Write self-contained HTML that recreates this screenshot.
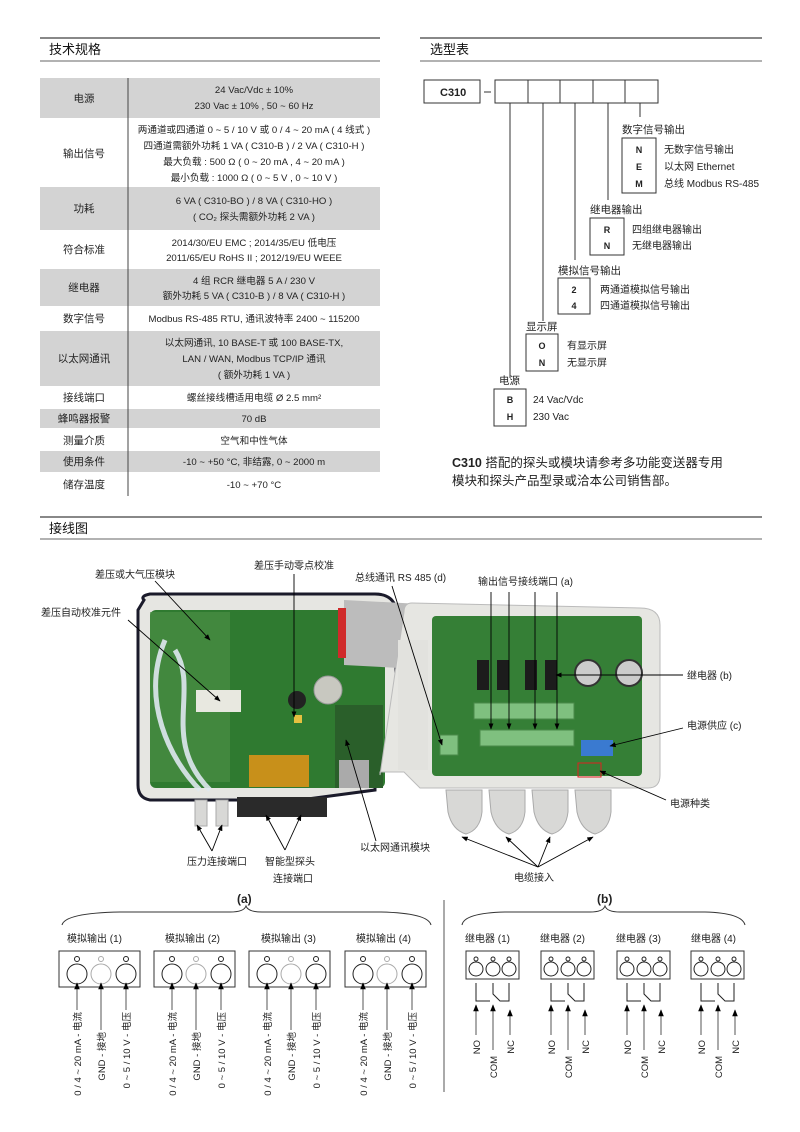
<!DOCTYPE html>
<html><head><meta charset="utf-8"><style>
html,body{margin:0;padding:0;background:#fff}
svg{display:block}
text{font-family:"Liberation Sans","Noto Sans CJK SC",sans-serif;fill:#222}
.t{font-size:10.5px}
.h{font-size:13px;fill:#111}
.b{font-weight:bold}
.l{font-size:10px}
</style></head><body>
<svg width="800" height="1132" viewBox="0 0 800 1132" xmlns="http://www.w3.org/2000/svg">
<defs>
<marker id="ar" viewBox="0 0 10 10" refX="9" refY="5" markerWidth="7" markerHeight="7" orient="auto-start-reverse"><path d="M0,1 L10,5 L0,9 z" fill="#000"/></marker>
</defs>
<!-- headers -->
<line x1="40" y1="38" x2="380" y2="38" stroke="#111" stroke-width="1"/>
<line x1="40" y1="61" x2="380" y2="61" stroke="#666" stroke-width="1"/>
<text x="49" y="54" class="h">技术规格</text>
<line x1="420" y1="38" x2="762" y2="38" stroke="#111"/>
<line x1="420" y1="61" x2="762" y2="61" stroke="#666"/>
<text x="430" y="54" class="h">选型表</text>
<line x1="40" y1="517" x2="762" y2="517" stroke="#111"/>
<line x1="40" y1="539" x2="762" y2="539" stroke="#666"/>
<text x="49" y="533" class="h">接线图</text>

<!-- table -->
<g fill="#d3d3d3">
<rect x="40" y="78" width="340" height="40"/>
<rect x="40" y="187" width="340" height="43"/>
<rect x="40" y="269" width="340" height="37"/>
<rect x="40" y="331" width="340" height="55"/>
<rect x="40" y="409" width="340" height="19"/>
<rect x="40" y="451" width="340" height="21"/>
</g>
<line x1="128" y1="78" x2="128" y2="496" stroke="#444"/>
<g class="t" text-anchor="middle">
<text x="84" y="102">电源</text>
<text x="84" y="157">输出信号</text>
<text x="84" y="212">功耗</text>
<text x="84" y="253">符合标准</text>
<text x="84" y="291">继电器</text>
<text x="84" y="322">数字信号</text>
<text x="84" y="362">以太网通讯</text>
<text x="84" y="401">接线端口</text>
<text x="84" y="422">蜂鸣器报警</text>
<text x="84" y="444">测量介质</text>
<text x="84" y="465">使用条件</text>
<text x="84" y="488">储存温度</text>
</g>
<g text-anchor="middle" style="font-size:9.6px">
<text x="254" y="93">24 Vac/Vdc ± 10%</text>
<text x="254" y="109">230 Vac ± 10% , 50 ~ 60 Hz</text>
<text x="254" y="133">两通道或四通道 0 ~ 5 / 10 V 或 0 / 4 ~ 20 mA ( 4 线式 )</text>
<text x="254" y="149">四通道需额外功耗 1 VA ( C310-B ) / 2 VA ( C310-H )</text>
<text x="254" y="165">最大负载 : 500 Ω ( 0 ~ 20 mA , 4 ~ 20 mA )</text>
<text x="254" y="181">最小负载 : 1000 Ω ( 0 ~ 5 V , 0 ~ 10 V )</text>
<text x="254" y="204">6 VA ( C310-BO ) / 8 VA ( C310-HO )</text>
<text x="254" y="220">( CO₂ 探头需额外功耗 2 VA )</text>
<text x="254" y="246">2014/30/EU EMC ; 2014/35/EU 低电压</text>
<text x="254" y="261">2011/65/EU RoHS II ; 2012/19/EU WEEE</text>
<text x="254" y="284">4 组 RCR 继电器 5 A / 230 V</text>
<text x="254" y="299">额外功耗 5 VA ( C310-B ) / 8 VA ( C310-H )</text>
<text x="254" y="322">Modbus RS-485 RTU, 通讯波特率 2400 ~ 115200</text>
<text x="254" y="346">以太网通讯, 10 BASE-T 或 100 BASE-TX,</text>
<text x="254" y="362">LAN / WAN, Modbus TCP/IP 通讯</text>
<text x="254" y="378">( 额外功耗 1 VA )</text>
<text x="254" y="401">螺丝接线槽适用电缆 Ø 2.5 mm²</text>
<text x="254" y="422">70 dB</text>
<text x="254" y="444">空气和中性气体</text>
<text x="254" y="465">-10 ~ +50 °C, 非结露, 0 ~ 2000 m</text>
<text x="254" y="488">-10 ~ +70 °C</text>
</g>

<!-- selection chart -->
<g stroke="#333" fill="none">
<rect x="424" y="80" width="56" height="23"/>
<line x1="484" y1="92" x2="491" y2="92"/>
<rect x="495" y="80" width="163" height="23"/>
<line x1="528" y1="80" x2="528" y2="103"/><line x1="560" y1="80" x2="560" y2="103"/>
<line x1="593" y1="80" x2="593" y2="103"/><line x1="625" y1="80" x2="625" y2="103"/>
<line x1="510" y1="103" x2="510" y2="378"/>
<line x1="543" y1="103" x2="543" y2="321"/>
<line x1="575" y1="103" x2="575" y2="260"/>
<line x1="608" y1="103" x2="608" y2="200"/>
<line x1="640" y1="103" x2="640" y2="117"/>
<rect x="622" y="138" width="34" height="55"/>
<rect x="590" y="218" width="34" height="37"/>
<rect x="558" y="278" width="32" height="36"/>
<rect x="526" y="334" width="32" height="37"/>
<rect x="494" y="389" width="32" height="37"/>
</g>
<text x="440" y="96" class="b" style="font-size:11px">C310</text>
<g style="font-size:10.5px">
<text x="622" y="133">数字信号输出</text>
<text x="590" y="213">继电器输出</text>
<text x="558" y="274">模拟信号输出</text>
<text x="526" y="330">显示屏</text>
<text x="499" y="384">电源</text>
</g>
<g class="b" style="font-size:9px" text-anchor="middle">
<text x="639" y="153">N</text><text x="639" y="170">E</text><text x="639" y="187">M</text>
<text x="607" y="233">R</text><text x="607" y="249">N</text>
<text x="574" y="293">2</text><text x="574" y="309">4</text>
<text x="542" y="349">O</text><text x="542" y="366">N</text>
<text x="510" y="403">B</text><text x="510" y="420">H</text>
</g>
<g style="font-size:10px">
<text x="664" y="153">无数字信号输出</text>
<text x="664" y="170">以太网  Ethernet</text>
<text x="664" y="187">总线  Modbus RS-485</text>
<text x="632" y="233">四组继电器输出</text>
<text x="632" y="249">无继电器输出</text>
<text x="600" y="293">两通道模拟信号输出</text>
<text x="600" y="309">四通道模拟信号输出</text>
<text x="567" y="349">有显示屏</text>
<text x="567" y="366">无显示屏</text>
<text x="533" y="403">24 Vac/Vdc</text>
<text x="533" y="420">230 Vac</text>
</g>
<text x="452" y="467" style="font-size:12.5px"><tspan class="b">C310</tspan> 搭配的探头或模块请参考多功能变送器专用</text>
<text x="452" y="485" style="font-size:12.5px">模块和探头产品型录或洽本公司销售部。</text>

<!-- PHOTO approximation -->
<g>
<path d="M144,600 Q140,596 150,594 L375,594 Q392,594 396,608 L396,628 L396,770 L375,770 L375,790 L300,800 L150,800 Q138,798 138,785 L138,610 Z" fill="#e6e6e2" stroke="#1a1a2a" stroke-width="3"/>
<rect x="150" y="610" width="235" height="178" rx="6" fill="#2f7a30"/>
<rect x="150" y="612" width="80" height="170" fill="#4a8f45" opacity="0.7"/>
<rect x="335" y="705" width="48" height="83" fill="#2a5f2a"/>
<path d="M165,640 C140,700 170,760 200,790 M175,650 C200,690 160,740 210,790" stroke="#dfe8ef" stroke-width="5" fill="none" opacity="0.9"/>
<rect x="196" y="690" width="45" height="22" fill="#e8e8e0"/>
<circle cx="328" cy="690" r="14" fill="#c8c8c0" stroke="#999"/>
<circle cx="297" cy="700" r="9" fill="#222"/>
<rect x="294" y="715" width="8" height="8" fill="#e6c040"/>
<rect x="249" y="755" width="60" height="32" fill="#c8901a"/>
<rect x="339" y="760" width="30" height="28" fill="#aaa"/>
<path d="M344,600 L440,605 L445,640 L400,640 L400,668 L344,665 Z" fill="#bcbcbc"/>
<rect x="338" y="608" width="8" height="50" fill="#d02a2a"/>
<rect x="440" y="625" width="8" height="50" fill="#d02a2a"/>
<path d="M404,612 Q404,603 412,603 L640,608 Q660,608 660,625 L660,775 Q660,788 648,788 L420,788 L404,772 L380,772 L380,775 Z" fill="#e6e6e2" stroke="#bbb"/>
<rect x="432" y="616" width="210" height="160" rx="4" fill="#357f36"/>
<rect x="398" y="640" width="30" height="130" fill="#e2e2de"/>
<g fill="#1c1c1c">
<rect x="477" y="660" width="12" height="30"/><rect x="497" y="660" width="12" height="30"/>
<rect x="525" y="660" width="12" height="30"/><rect x="545" y="660" width="12" height="30"/>
</g>
<g fill="#7fc07f" stroke="#4a8a4a">
<rect x="474" y="703" width="100" height="16"/>
<rect x="480" y="730" width="94" height="16"/>
<rect x="440" y="735" width="18" height="20"/>
</g>
<rect x="581" y="740" width="32" height="16" fill="#3a7ad0"/>
<circle cx="588" cy="673" r="13" fill="#ccc" stroke="#333" stroke-width="2"/>
<circle cx="629" cy="673" r="13" fill="#ccc" stroke="#333" stroke-width="2"/>
<rect x="578" y="763" width="23" height="14" fill="none" stroke="#e02020"/>
<g fill="#d8d8d6" stroke="#aaa">
<path d="M446,790 h36 v22 q-2,18 -16,22 q-14,-4 -18,-22 z"/>
<path d="M489,790 h36 v22 q-2,18 -16,22 q-14,-4 -18,-22 z"/>
<path d="M532,790 h36 v22 q-2,18 -16,22 q-14,-4 -18,-22 z"/>
<path d="M575,790 h36 v22 q-2,18 -16,22 q-14,-4 -18,-22 z"/>
<rect x="195" y="800" width="12" height="26"/><rect x="216" y="800" width="12" height="26"/>
</g>
<rect x="237" y="797" width="90" height="20" fill="#2a2a2a"/>
</g>

<!-- photo labels & pointers -->
<g class="l">
<text x="95" y="578">差压或大气压模块</text>
<text x="254" y="569">差压手动零点校准</text>
<text x="41" y="616">差压自动校准元件</text>
<text x="355" y="581">总线通讯 RS 485  (d)</text>
<text x="478" y="585">输出信号接线端口  (a)</text>
<text x="687" y="679">继电器  (b)</text>
<text x="687" y="729">电源供应  (c)</text>
<text x="670" y="807">电源种类</text>
<text x="360" y="851">以太网通讯模块</text>
<text x="187" y="865">压力连接端口</text>
<text x="265" y="865">智能型探头</text>
<text x="273" y="882">连接端口</text>
<text x="514" y="881">电缆接入</text>
</g>
<g stroke="#000" stroke-width="0.9" fill="none" marker-end="url(#ar)">
<line x1="155" y1="581" x2="210" y2="640"/>
<line x1="128" y1="620" x2="220" y2="701"/>
<line x1="294" y1="574" x2="294" y2="717"/>
<line x1="392" y1="586" x2="442" y2="745"/>
<line x1="491" y1="592" x2="491" y2="729"/><line x1="509" y1="592" x2="509" y2="729"/>
<line x1="535" y1="592" x2="535" y2="729"/><line x1="557" y1="592" x2="557" y2="729"/>
<line x1="683" y1="675" x2="556" y2="675"/>
<line x1="683" y1="728" x2="610" y2="746"/>
<line x1="666" y1="800" x2="600" y2="771"/>
<line x1="376" y1="841" x2="346" y2="740"/>
<line x1="212" y1="851" x2="197" y2="825"/><line x1="212" y1="851" x2="222" y2="825"/>
<line x1="285" y1="850" x2="266" y2="815"/><line x1="285" y1="850" x2="301" y2="815"/>
<line x1="538" y1="867" x2="462" y2="837"/><line x1="538" y1="867" x2="506" y2="837"/>
<line x1="538" y1="867" x2="550" y2="837"/><line x1="538" y1="867" x2="593" y2="837"/>
</g>

<!-- bottom (a) -->
<line x1="444" y1="900" x2="444" y2="1092" stroke="#555"/>
<text x="237" y="903" class="b" style="font-size:12px">(a)</text>
<path d="M62,925 Q65,913 120,912 L230,912 Q244,912 246,906 Q248,912 262,912 L380,912 Q428,913 431,925" fill="none" stroke="#333"/>
<text x="597" y="903" class="b" style="font-size:12px">(b)</text>
<path d="M462,925 Q464,913 505,912 L590,912 Q603,912 605,906 Q607,912 620,912 L705,912 Q742,913 745,925" fill="none" stroke="#333"/>

<g class="l">
<text x="67" y="942">模拟输出  (1)</text><text x="165" y="942">模拟输出  (2)</text>
<text x="261" y="942">模拟输出  (3)</text><text x="356" y="942">模拟输出  (4)</text>
<text x="465" y="942">继电器  (1)</text><text x="540" y="942">继电器  (2)</text>
<text x="616" y="942">继电器  (3)</text><text x="691" y="942">继电器  (4)</text>
</g>

<!-- analog modules -->
<g id="am1">
<rect x="59" y="951" width="81" height="36" fill="none" stroke="#333"/>
<g fill="none" stroke="#222"><circle cx="77" cy="959" r="2.5"/><circle cx="126" cy="959" r="2.5"/><circle cx="77" cy="974" r="10"/><circle cx="126" cy="974" r="10"/></g>
<g fill="none" stroke="#aaa"><circle cx="101" cy="959" r="2.5"/><circle cx="101" cy="974" r="10"/></g>
<g stroke="#555" marker-end="url(#ar)"><line x1="77" y1="1010" x2="77" y2="983"/><line x1="101" y1="1030" x2="101" y2="983"/><line x1="126" y1="1010" x2="126" y2="983"/></g>
</g>
<use href="#am1" x="95"/><use href="#am1" x="190"/><use href="#am1" x="286"/>
<g style="font-size:9.5px" text-anchor="end">
<text transform="translate(81,1012) rotate(-90)">0 / 4 ~ 20 mA - 电流</text>
<text transform="translate(105,1032) rotate(-90)">GND - 接地</text>
<text transform="translate(130,1012) rotate(-90)">0 ~ 5 / 10 V - 电压</text>
<text transform="translate(176,1012) rotate(-90)">0 / 4 ~ 20 mA - 电流</text>
<text transform="translate(200,1032) rotate(-90)">GND - 接地</text>
<text transform="translate(225,1012) rotate(-90)">0 ~ 5 / 10 V - 电压</text>
<text transform="translate(271,1012) rotate(-90)">0 / 4 ~ 20 mA - 电流</text>
<text transform="translate(295,1032) rotate(-90)">GND - 接地</text>
<text transform="translate(320,1012) rotate(-90)">0 ~ 5 / 10 V - 电压</text>
<text transform="translate(367,1012) rotate(-90)">0 / 4 ~ 20 mA - 电流</text>
<text transform="translate(391,1032) rotate(-90)">GND - 接地</text>
<text transform="translate(416,1012) rotate(-90)">0 ~ 5 / 10 V - 电压</text>
</g>

<!-- relay modules -->
<g id="rm1">
<rect x="466" y="951" width="53" height="28" fill="none" stroke="#333"/>
<g fill="none" stroke="#222"><circle cx="476" cy="959" r="2"/><circle cx="493" cy="959" r="2"/><circle cx="509" cy="959" r="2"/>
<circle cx="476" cy="969" r="7"/><circle cx="493" cy="969" r="7"/><circle cx="509" cy="969" r="7"/>
<path d="M476,983 V1001 H490 M493,983 V994 L500,1001 H509 V983"/></g>
<g stroke="#555" marker-end="url(#ar)"><line x1="476" y1="1035" x2="476" y2="1005"/><line x1="493" y1="1050" x2="493" y2="1005"/><line x1="510" y1="1035" x2="510" y2="1010"/></g>
<g style="font-size:9.5px" text-anchor="end">
<text transform="translate(480,1040) rotate(-90)">NO</text>
<text transform="translate(497,1056) rotate(-90)">COM</text>
<text transform="translate(514,1040) rotate(-90)">NC</text>
</g>
</g>
<use href="#rm1" x="75"/><use href="#rm1" x="151"/><use href="#rm1" x="225"/>
</svg>
</body></html>
